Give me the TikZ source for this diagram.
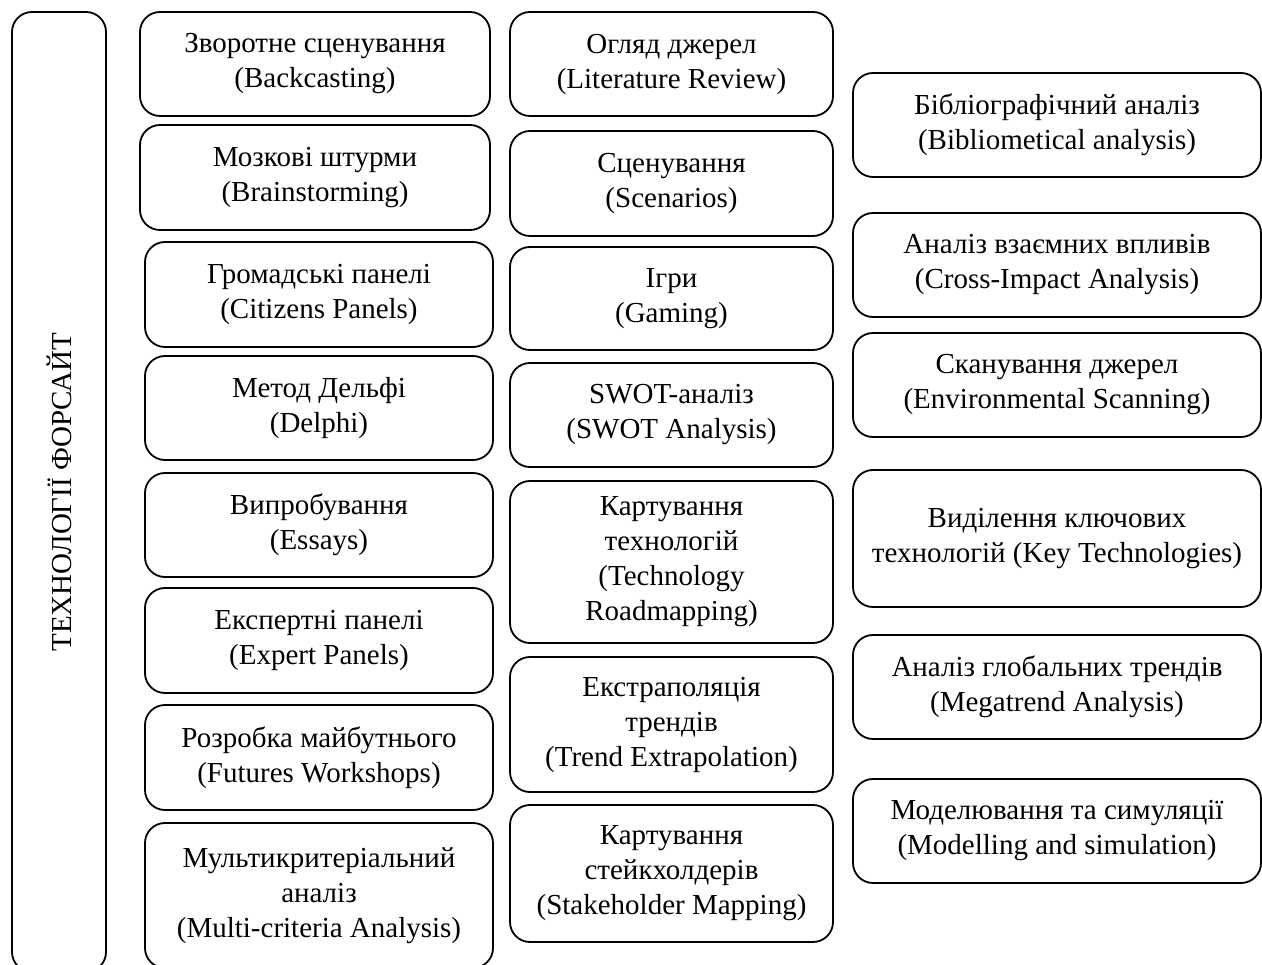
\documentclass[tikz,border=0pt]{standalone}
\usepackage{fontspec}
\setmainfont{Liberation Serif}
\usetikzlibrary{positioning}

\tikzset{
  method/.style={draw, line width=1.8pt, rounded corners=20pt, align=center,
    anchor=north west, inner sep=2pt, outer sep=0pt,
    font=\fontsize{29}{35}\selectfont},
}

\begin{document}
\begin{tikzpicture}[x=1pt, y=-1pt]
  \useasboundingbox (0,0) rectangle (1262,965);
  \clip (0,0) rectangle (1262,965);
  % left bar
  \node[method, minimum width=94pt, minimum height=960pt] (bar) at (12,12) {};
  \node[rotate=90, font=\fontsize{29}{35}\selectfont] (title) at (bar.center) {ТЕХНОЛОГІЇ ФОРСАЙТ};
  % first column
  \node[method, minimum width=350pt, minimum height=104pt] (backcast) at (140,12) {Зворотне сценування\\(Backcasting)};
  \node[method, minimum width=350pt, minimum height=105pt] (brainstorm) at (140,125) {Мозкові штурми\\(Brainstorming)};
  \node[method, minimum width=348pt, minimum height=105pt] (citizens) at (145,242) {Громадські панелі\\(Citizens Panels)};
  \node[method, minimum width=348pt, minimum height=104pt] (delphi) at (145,356) {Метод Дельфі\\(Delphi)};
  \node[method, minimum width=348pt, minimum height=104pt] (essays) at (145,473) {Випробування\\(Essays)};
  \node[method, minimum width=348pt, minimum height=105pt] (experts) at (145,588) {Експертні панелі\\(Expert Panels)};
  \node[method, minimum width=348pt, minimum height=105pt] (workshops) at (145,705) {Розробка майбутнього\\(Futures Workshops)};
  \node[method, minimum width=348pt, minimum height=145pt] (multicrit) at (145,823) {Мультикритеріальний\\аналіз\\(Multi-criteria Analysis)};
  % second column
  \node[method, minimum width=323pt, minimum height=104pt] (litreview) at (510,12) {Огляд джерел\\(Literature Review)};
  \node[method, minimum width=323pt, minimum height=105pt] (scenarios) at (510,131) {Сценування\\(Scenarios)};
  \node[method, minimum width=323pt, minimum height=103pt] (gaming) at (510,247) {Ігри\\(Gaming)};
  \node[method, minimum width=323pt, minimum height=104pt] (swot) at (510,363) {SWOT-аналіз\\(SWOT Analysis)};
  \node[method, minimum width=323pt, minimum height=162pt] (roadmap) at (510,481) {Картування\\технологій\\(Technology\\Roadmapping)};
  \node[method, minimum width=323pt, minimum height=135pt] (extrapol) at (510,657) {Екстраполяція\\трендів\\(Trend Extrapolation)};
  \node[method, minimum width=323pt, minimum height=137pt] (stakeholders) at (510,805) {Картування\\стейкхолдерів\\(Stakeholder Mapping)};
  % third column
  \node[method, minimum width=408pt, minimum height=104pt] (biblio) at (853,73) {Бібліографічний аналіз\\(Bibliometical analysis)};
  \node[method, minimum width=408pt, minimum height=104pt] (crossimpact) at (853,213) {Аналіз взаємних впливів\\(Cross-Impact Analysis)};
  \node[method, minimum width=408pt, minimum height=104pt] (scanning) at (853,333) {Сканування джерел\\(Environmental Scanning)};
  \node[method, minimum width=408pt, minimum height=137pt] (keytech) at (853,470) {Виділення ключових\\технологій (Key Technologies)};
  \node[method, minimum width=408pt, minimum height=104pt] (megatrend) at (853,635) {Аналіз глобальних трендів\\(Megatrend Analysis)};
  \node[method, minimum width=408pt, minimum height=104pt] (modelling) at (853,779) {Моделювання та симуляції\\(Modelling and simulation)};
\end{tikzpicture}
\end{document}
